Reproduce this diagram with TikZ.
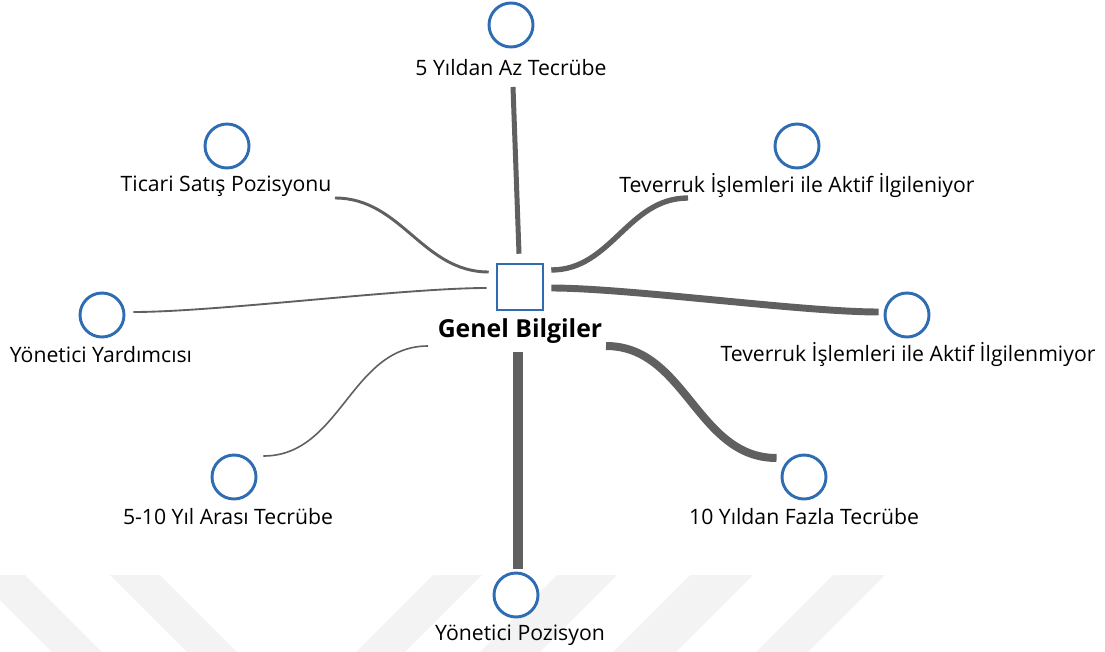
\documentclass[tikz,border=0pt]{standalone}
\usepackage{fontspec}
\setmainfont{Open Sans}
\usepackage{tikz}
\usetikzlibrary{calc}
\definecolor{nodeblue}{HTML}{2E6DB4}
\definecolor{linkgray}{HTML}{606060}
\definecolor{wmgray}{HTML}{F3F3F3}

\begin{document}
\begin{tikzpicture}[x=0.75pt, y=-0.75pt,
         C/.style = {circle, draw=nodeblue, line width=2.2pt, fill=white,
                     minimum size=33pt, inner sep=0pt},
         B/.style = {rectangle, draw=nodeblue, line width=1.9pt, fill=white,
                     minimum size=34.5pt, inner sep=0pt},
         T/.style = {inner sep=0pt, font=\fontsize{15.9}{18}\selectfont},
         L/.style = {draw=linkgray, line cap=butt}
                    ]
\useasboundingbox (0,0) rectangle (1105,652);
% watermark
\fill[wmgray] (-25,575) -- (25,575) -- (102,652) -- (52,652) -- cycle
              (110,575) -- (160,575) -- (237,652) -- (187,652) -- cycle
              (433,575) -- (482,575) -- (405,652) -- (356,652) -- cycle
              (557,575) -- (617,575) -- (540,652) -- (480,652) -- cycle
              (690,575) -- (753,575) -- (676,652) -- (613,652) -- cycle
              (833,575) -- (885,575) -- (808,652) -- (756,652) -- cycle;

\node (gb) [B] at (520,287) {};
\node (gbl) [T, font=\fontsize{18.6}{21}\selectfont\bfseries] at (520,331) {Genel Bilgiler};

\node (c1) [C] at (511,25)  {};
\node (c2) [C] at (227,146) {};
\node (c3) [C] at (797,146) {};
\node (c4) [C] at (102,315) {};
\node (c5) [C] at (907,315) {};
\node (c6) [C] at (234,477) {};
\node (c7) [C] at (804,477) {};
\node (c8) [C] at (516,595) {};

\node (t1) [T] at (511,68)  {5 Yıldan Az Tecrübe};
\node (t2) [T] at (226,186) {Ticari Satış Pozisyonu};
\node (t3) [T] at (797,186) {Teverruk İşlemleri ile Aktif İlgileniyor};
\node (t4) [T] at (101,355) {Yönetici Yardımcısı};
\node (t5) [T] at (908,355) {Teverruk İşlemleri ile Aktif İlgilenmiyor};
\node (t6) [T] at (228,517) {5-10 Yıl Arası Tecrübe};
\node (t7) [T] at (804,517) {10 Yıldan Fazla Tecrübe};
\node (t8) [T] at (520,635) {Yönetici Pozisyon};

% free ends of the links
\coordinate (e1) at (513,87);
\coordinate (e2) at (335,198);
\coordinate (e3) at (688,198);
\coordinate (e6) at (428,346);
\coordinate (e7) at (606,346);
\coordinate (e8) at (518,352);

\draw[L, line width=3.75pt] (e1) -- ([shift={(-1,-9)}]gb.north);
\draw[L, line width=2.2pt]  (e2)
        to[out=0, in=180] ([shift={(-7,-15)}]gb.west);
\draw[L, line width=4pt]    ([shift={(7,-17)}]gb.east)
        to[out=0, in=180] (e3);
\draw[L, line width=1.4pt]  ([shift={(8,-3)}]c4.east)
        to[out=0, in=180, looseness=0.6] ([shift={(-9,1)}]gb.west);
\draw[L, line width=5.2pt]  ([shift={(7,1)}]gb.east)
        to[out=0, in=180, looseness=0.6] ([shift={(-5,-3)}]c5.west);
\draw[L, line width=1.2pt]  ([shift={(6,-21)}]c6.east)
        to[out=0, in=180] (e6);
\draw[L, line width=6pt]    (e7)
        to[out=0, in=180] ([shift={(-4,-19)}]c7.west);
\draw[L, line width=6.8pt]  (e8) -- ([shift={(2,-3)}]c8.north);
\end{tikzpicture}
\end{document}
